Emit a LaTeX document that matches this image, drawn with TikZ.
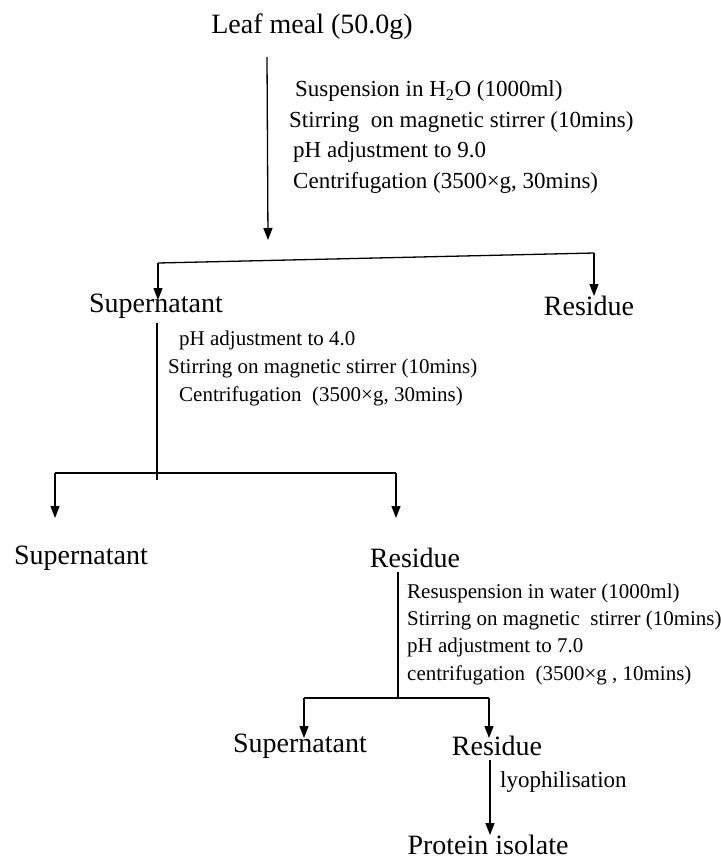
\documentclass[tikz,border=0pt]{standalone}
\usepackage{fontspec}
\setmainfont{Liberation Serif}
\usetikzlibrary{arrows.meta}
\tikzset{
  lbl/.style={font=\fontsize{28}{30}\selectfont, inner sep=0pt},
  stepa/.style={font=\fontsize{23}{25}\selectfont, anchor=west, inner sep=0pt},
  stepb/.style={font=\fontsize{21}{23}\selectfont, anchor=west, inner sep=0pt},
  ln/.style={line width=1.3pt, draw=black},
  arr/.style={ln, -{Triangle[length=12pt,width=9pt]}}
}
\begin{document}
\begin{tikzpicture}[x=1pt,y=-1pt]
\useasboundingbox (0,0) rectangle (720,859);
% main labels
\node[lbl] (leaf) at (312,27) {Leaf meal (50.0g)};
\node[lbl] (sup1) at (156,306) {Supernatant};
\node[lbl] (res1) at (589,306) {Residue};
\node[lbl] (sup2) at (81,558) {Supernatant};
\node[lbl] (res2) at (415,558) {Residue};
\node[lbl] (sup3) at (300,746) {Supernatant};
\node[lbl] (res3) at (497,746) {Residue};
\node[lbl] (prot) at (488,845) {Protein isolate};
% step block 1
\node[stepa] (s1a) at (295,91) {Suspension in H\textsubscript{2}O (1000ml)};
\node[stepa] (s1b) at (289,122) {Stirring\ \ on magnetic stirrer (10mins)};
\node[stepa] (s1c) at (293,152) {pH adjustment to 9.0};
\node[stepa] (s1d) at (293,183) {Centrifugation (3500×g, 30mins)};
% step block 2
\node[stepb] (s2a) at (179,340) {pH adjustment to 4.0};
\node[stepb] (s2b) at (168,368) {Stirring on magnetic stirrer (10mins)};
\node[stepb] (s2c) at (179,396) {Centrifugation\ \ (3500×g, 30mins)};
% step block 3
\node[stepb] (s3a) at (407,593) {Resuspension in water (1000ml)};
\node[stepb] (s3b) at (407,620) {Stirring on magnetic\ \ stirrer (10mins)};
\node[stepb] (s3c) at (407,647) {pH adjustment to 7.0};
\node[stepb] (s3d) at (407,675) {centrifugation\ \ (3500×g , 10mins)};
% step 4
\node[stepa] (s4) at (500,782) {lyophilisation};
% coordinates
\coordinate (a1s) at (267,57);
\coordinate (a1e) at (268,240);
\coordinate (b1l) at (158,263);
\coordinate (b1r) at (594,253);
\coordinate (t1l) at (158,300);
\coordinate (t1r) at (594,296);
\coordinate (a2s) at (157,323);
\coordinate (a2e) at (157,480);
\coordinate (b2l) at (55,473);
\coordinate (b2r) at (396,473);
\coordinate (t2l) at (55,518);
\coordinate (t2r) at (396,518);
\coordinate (a3s) at (398,572);
\coordinate (b3l) at (304,698);
\coordinate (b3m) at (398,698);
\coordinate (b3r) at (489,698);
\coordinate (t3l) at (304,738);
\coordinate (t3r) at (489,738);
\coordinate (a4s) at (490,760);
\coordinate (a4e) at (490,835);
% connectors
\draw[arr] (a1s) -- (a1e);
\draw[ln] (b1l) -- (b1r);
\draw[arr] (b1l) -- (t1l);
\draw[arr] (b1r) -- (t1r);
\draw[ln] (a2s) -- (a2e);
\draw[ln] (b2l) -- (b2r);
\draw[arr] (b2l) -- (t2l);
\draw[arr] (b2r) -- (t2r);
\draw[ln] (a3s) -- (b3m);
\draw[ln] (b3l) -- (b3r);
\draw[arr] (b3l) -- (t3l);
\draw[arr] (b3r) -- (t3r);
\draw[arr] (a4s) -- (a4e);
\end{tikzpicture}
\end{document}
